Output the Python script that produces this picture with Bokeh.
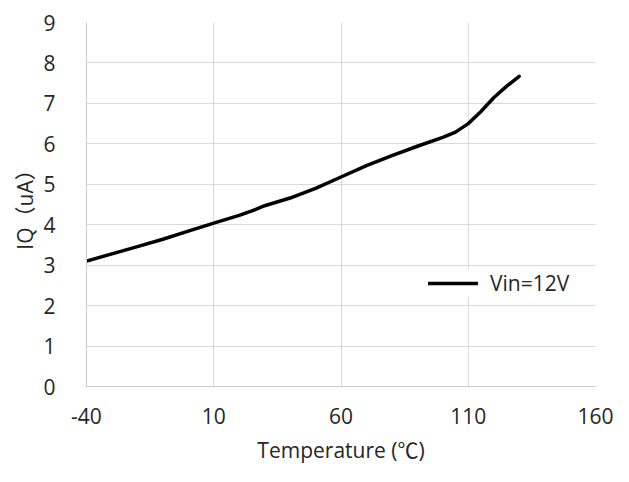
from bokeh.plotting import figure
from bokeh.models import Range1d, FixedTicker, Legend, LegendItem
from bokeh.embed import file_html
from bokeh.resources import INLINE

temps = [-40, -30, -20, -10, 0, 10, 20, 25, 30, 40, 50, 60, 70, 80, 90, 100, 105, 110, 115, 120, 125, 130]
iq_vin12 = [3.10, 3.28, 3.46, 3.64, 3.84, 4.04, 4.23, 4.34, 4.47, 4.66, 4.90, 5.18, 5.46, 5.71, 5.94, 6.16, 6.29, 6.50, 6.80, 7.14, 7.42, 7.67]
x_ticks = [-40, 10, 60, 110, 160]
x_tick_labels = ["-40", "10", "60", "110", "160"]
y_ticks = [0, 1, 2, 3, 4, 5, 6, 7, 8, 9]
series_label = "Vin=12V"

FONT = "Open Sans"
TXT = "#262626"

p = figure(width=613, height=466, output_backend="svg", toolbar_location=None,
           x_range=Range1d(-40, 160), y_range=Range1d(0, 9),
           min_border_left=86, min_border_right=18, min_border_top=22, min_border_bottom=78)
p.outline_line_color = None
p.border_fill_color = "white"
p.background_fill_color = "white"

r = p.line(temps, iq_vin12, line_color="black", line_width=3.5, line_cap="round", line_join="round")

for ax in (p.xaxis[0], p.yaxis[0]):
    ax.axis_line_color = "#cccccc"
    ax.major_tick_line_color = None
    ax.minor_tick_line_color = None
    ax.major_label_text_font = FONT
    ax.major_label_text_font_size = "21px"
    ax.major_label_text_color = TXT
    ax.axis_label_text_font = FONT + ", Noto Sans CJK SC"
    ax.axis_label_text_font_size = "21px"
    ax.axis_label_text_font_style = "normal"
    ax.axis_label_text_color = TXT

p.xaxis.ticker = FixedTicker(ticks=x_ticks)
p.xaxis.major_label_overrides = {t: s for t, s in zip(x_ticks, x_tick_labels)}
p.yaxis.ticker = FixedTicker(ticks=y_ticks)
p.xaxis.major_label_standoff = 15
p.yaxis.major_label_standoff = 25
p.xaxis.axis_label = "Temperature (℃)"
p.yaxis.axis_label = "IQ（uA）"
p.xaxis.axis_label_standoff = 9
p.yaxis.axis_label_standoff = 1

p.xgrid.ticker = FixedTicker(ticks=x_ticks)
p.ygrid.ticker = FixedTicker(ticks=y_ticks)
p.grid.grid_line_color = "#d9d9d9"
p.grid.grid_line_width = 1

legend = Legend(items=[LegendItem(label=series_label, renderers=[r])],
                location=(342, 89), border_line_color=None,
                background_fill_color="white", background_fill_alpha=1,
                padding=15, margin=0, glyph_width=50, glyph_height=20,
                label_standoff=12, label_text_font=FONT,
                label_text_font_size="21px", label_text_color=TXT)
p.add_layout(legend, "center")

open("out.html", "w").write(file_html(p, INLINE))
